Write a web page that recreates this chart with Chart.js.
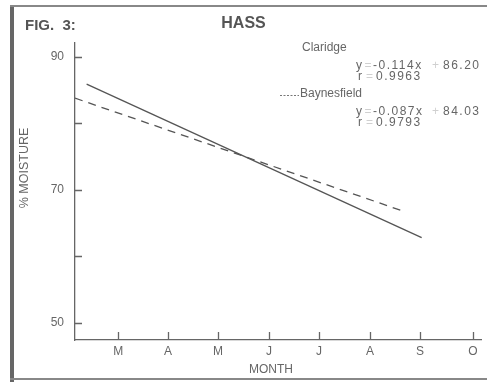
<!DOCTYPE html>
<html>
<head>
<meta charset="utf-8">
<script src="https://cdn.jsdelivr.net/npm/chart.js@4.4.1/dist/chart.umd.min.js"></script>
<style>
  html, body { margin: 0; padding: 0; background: #fff; }
  canvas { display: block; }
</style>
</head>
<body>
<canvas id="myChart" width="487" height="382"></canvas>
<script>
// x is in days from the start of the axis
const months = ['M', 'A', 'M', 'J', 'J', 'A', 'S', 'O'];
const monthDays = [26, 56, 86, 116.7, 146.8, 177.5, 207.6, 239.5];
const yTicks = [50, 60, 70, 80, 90];
const yLabels = [50, 70, 90];

// regression lines, start and end points
const claridgeDays = [7, 208.6];
const claridgeMoisture = [85.9, 62.8];
const baynesDays = [0, 198.6];
const baynesMoisture = [83.8, 66.7];

// slope, intercept, r
const claridgeFit = ['-0.114x', '86.20', '0.9963'];
const baynesFit = ['-0.087x', '84.03', '0.9793'];

Chart.defaults.font.family = '"Liberation Sans", Arial, sans-serif';
Chart.defaults.color = '#666';

function points(xs, ys) {
  return xs.map((x, i) => ({ x: x, y: ys[i] }));
}

function drawFit(c, fit, top) {
  c.fillStyle = '#666';
  c.fillText('y', 356, top);
  c.fillText('r', 358, top + 11);
  c.fillText(fit[0], 373, top);
  c.fillText(fit[1], 443, top);
  c.fillText(fit[2], 376, top + 11);
  // the signs came out faint in print
  c.fillStyle = '#d0d0d0';
  c.fillText('=', 364.5, top);
  c.fillText('=', 366, top + 11);
  c.fillText('+', 432, top);
}

// frame, inward tick marks and the loose text
const paper = {
  id: 'paper',
  beforeDraw(chart) {
    const c = chart.ctx;
    c.save();
    c.fillStyle = '#fff';
    c.fillRect(0, 0, chart.width, chart.height);
    c.fillStyle = '#666';
    c.fillRect(10, 5, 4, 377);
    c.fillStyle = '#888';
    c.fillRect(10, 5, chart.width - 10, 2);
    c.fillRect(10, 378, chart.width - 10, 2);
    c.restore();
  },
  afterDraw(chart) {
    const c = chart.ctx;
    const area = chart.chartArea;
    const xs = chart.scales.x;
    const ys = chart.scales.y;
    c.save();
    c.strokeStyle = '#666';
    c.lineWidth = 1.3;
    c.beginPath();
    xs.ticks.forEach(t => {
      const px = Math.round(xs.getPixelForValue(t.value)) + 0.5;
      c.moveTo(px, area.bottom);
      c.lineTo(px, area.bottom - 8);
    });
    ys.ticks.forEach(t => {
      const py = Math.round(ys.getPixelForValue(t.value)) + 0.5;
      c.moveTo(area.left, py);
      c.lineTo(area.left + 7, py);
    });
    c.stroke();

    c.fillStyle = '#555';
    c.textBaseline = 'middle';
    c.font = 'bold 15px "Liberation Sans", Arial, sans-serif';
    c.textAlign = 'left';
    c.fillText('FIG.  3:', 25, 25.5);
    c.font = 'bold 16px "Liberation Sans", Arial, sans-serif';
    c.textAlign = 'center';
    c.fillText('HASS', 243.5, 24);

    c.fillStyle = '#666';
    c.font = '12px "Liberation Sans", Arial, sans-serif';
    c.fillText('MONTH', 271, 370);
    c.save();
    c.translate(25, 168);
    c.rotate(-Math.PI / 2);
    c.font = '12.5px "Liberation Sans", Arial, sans-serif';
    c.fillText('% MOISTURE', 0, 0);
    c.restore();

    // fit equations
    c.textAlign = 'left';
    c.font = '12px "Liberation Sans", Arial, sans-serif';
    c.fillText('Claridge', 302, 48);
    c.fillText('Baynesfield', 300, 94);
    c.letterSpacing = '1.5px';
    drawFit(c, claridgeFit, 66);
    drawFit(c, baynesFit, 112);

    c.strokeStyle = '#777';
    c.lineWidth = 1;
    c.setLineDash([2, 1.5]);
    c.beginPath();
    c.moveTo(280, 95.5);
    c.lineTo(299, 95.5);
    c.stroke();
    c.restore();
  }
};

const ctx = document.getElementById('myChart');
new Chart(ctx, {
  type: 'line',
  data: {
    datasets: [
      {
        label: 'Claridge',
        data: points(claridgeDays, claridgeMoisture),
        borderColor: '#555',
        borderWidth: 1.3,
        pointRadius: 0
      },
      {
        label: 'Baynesfield',
        data: points(baynesDays, baynesMoisture),
        borderColor: '#555',
        borderWidth: 1.3,
        borderDash: [8, 6],
        pointRadius: 0
      }
    ]
  },
  options: {
    responsive: false,
    animation: false,
    devicePixelRatio: 1,
    layout: { padding: { left: 14, top: 43, right: 6, bottom: 2 } },
    plugins: {
      legend: { display: false },
      tooltip: { enabled: false }
    },
    scales: {
      x: {
        type: 'linear',
        min: 0,
        max: 244.3,
        afterBuildTicks: scale => { scale.ticks = monthDays.map(v => ({ value: v })); },
        afterFit: scale => { scale.height = 40; },
        ticks: {
          autoSkip: false,
          maxRotation: 0,
          padding: 4,
          font: { size: 12 },
          callback: (v, i) => months[i]
        },
        grid: { display: false, drawTicks: false },
        border: { display: true, color: '#666', width: 1.3 }
      },
      y: {
        min: 47.4,
        max: 92.1,
        afterBuildTicks: scale => { scale.ticks = yTicks.map(v => ({ value: v })); },
        afterFit: scale => { scale.width = 61; },
        ticks: {
          padding: 11,
          font: { size: 12 },
          callback: v => yLabels.includes(v) ? String(v) : ''
        },
        grid: { display: false, drawTicks: false },
        border: { display: true, color: '#666', width: 1.3 }
      }
    }
  },
  plugins: [paper]
});
</script>
</body>
</html>
